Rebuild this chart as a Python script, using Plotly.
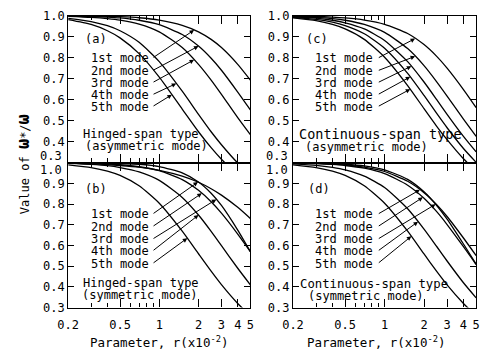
import numpy as np
import plotly.graph_objects as go

# ---------------- data ----------------
r = [0.2, 0.3, 0.4, 0.5, 0.7, 1.0, 1.5, 2.0, 2.5, 3.0, 4.0, 5.0]
modes = ["1st mode", "2nd mode", "3rd mode", "4th mode", "5th mode"]
x_tickvals = [0.2, 0.5, 1, 2, 3, 4, 5]
x_ticktext = ["0.2", "0.5", "1", "2", "3", "4", "5"]
x_minor = [0.3, 0.4, 0.6, 0.7, 0.8, 0.9]
y_tickvals = [0.3, 0.4, 0.5, 0.6, 0.7, 0.8, 0.9, 1.0]

# (a) Hinged-span type, asymmetric mode
a_1st = [0.999, 0.998, 0.997, 0.995, 0.990, 0.979, 0.954, 0.923, 0.887, 0.848, 0.768, 0.693]
a_2nd = [0.998, 0.996, 0.993, 0.989, 0.978, 0.957, 0.910, 0.855, 0.797, 0.740, 0.636, 0.551]
a_3rd = [0.997, 0.992, 0.986, 0.979, 0.960, 0.923, 0.848, 0.768, 0.693, 0.625, 0.514, 0.433]
a_4th = [0.987, 0.972, 0.952, 0.928, 0.873, 0.781, 0.640, 0.530, 0.447, 0.385, 0.298, 0.243]
a_5th = [0.981, 0.958, 0.928, 0.894, 0.819, 0.707, 0.555, 0.447, 0.371, 0.316, 0.243, 0.196]

# (b) Hinged-span type, symmetric mode
b_1st = [0.997, 0.994, 0.990, 0.986, 0.978, 0.963, 0.935, 0.905, 0.874, 0.843, 0.784, 0.730]
b_2nd = [0.998, 0.996, 0.993, 0.990, 0.980, 0.961, 0.918, 0.866, 0.811, 0.756, 0.655, 0.570]
b_3rd = [1.000, 0.999, 0.998, 0.996, 0.992, 0.981, 0.950, 0.906, 0.852, 0.793, 0.674, 0.570]
b_4th = [0.996, 0.991, 0.985, 0.976, 0.955, 0.914, 0.832, 0.747, 0.668, 0.599, 0.490, 0.410]
b_5th = [0.989, 0.976, 0.959, 0.938, 0.888, 0.804, 0.669, 0.560, 0.476, 0.411, 0.320, 0.261]

# (c) Continuous-span type, asymmetric mode
c_1st = [0.998, 0.996, 0.993, 0.989, 0.979, 0.959, 0.915, 0.862, 0.806, 0.750, 0.648, 0.562]
c_2nd = [0.996, 0.992, 0.986, 0.978, 0.958, 0.920, 0.843, 0.762, 0.685, 0.617, 0.507, 0.425]
c_3rd = [0.994, 0.988, 0.978, 0.966, 0.937, 0.882, 0.781, 0.684, 0.600, 0.530, 0.425, 0.351]
c_4th = [0.992, 0.982, 0.969, 0.953, 0.914, 0.845, 0.725, 0.620, 0.534, 0.466, 0.367, 0.301]
c_5th = [0.989, 0.976, 0.958, 0.937, 0.887, 0.802, 0.667, 0.557, 0.473, 0.409, 0.318, 0.259]

# (d) Continuous-span type, symmetric mode
d_1st = [0.998, 0.996, 0.993, 0.989, 0.978, 0.957, 0.910, 0.855, 0.797, 0.740, 0.636, 0.551]
d_2nd = [0.998, 0.995, 0.991, 0.986, 0.973, 0.947, 0.891, 0.828, 0.763, 0.701, 0.594, 0.508]
d_3rd = [0.999, 0.998, 0.995, 0.992, 0.984, 0.965, 0.919, 0.859, 0.793, 0.727, 0.607, 0.510]
d_4th = [0.994, 0.987, 0.977, 0.965, 0.935, 0.880, 0.777, 0.679, 0.595, 0.525, 0.420, 0.347]
d_5th = [0.989, 0.976, 0.959, 0.938, 0.888, 0.804, 0.669, 0.559, 0.475, 0.410, 0.320, 0.261]

# r-positions where each leader arrow meets its curve
a_tips = [1.85, 2.0, 1.85, 1.35, 1.25]
b_tips = [1.98, 2.12, 2.74, 2.0, 1.64]
c_tips = [1.71, 1.71, 1.6, 1.57, 1.57]
d_tips = [1.86, 1.96, 2.45, 1.8, 1.6]

# ---------------- layout helpers ----------------
W, H = 485, 354
FONT = "DejaVu Sans Mono"


def px(x):
    return x / W


def py(y):
    return 1 - y / H


LEFT = (59, 247)
RIGHT = (291, 480)
TOP = (9, 162)
BOT = (162, 313)


def yval(pix, band):
    return 1.0 - (pix - band[0]) / (band[1] - band[0]) * 0.7


panels = [
    dict(n=1, data=[a_1st, a_2nd, a_3rd, a_4th, a_5th], tips=a_tips, xb=LEFT, yb=TOP,
         letter="(a)", t1="Hinged-span type", t2="(asymmetric mode)", t1size=12,
         t1x=73, t2x=75, t1y=132, t2y=145, lx=75, ly=33),
    dict(n=2, data=[c_1st, c_2nd, c_3rd, c_4th, c_5th], tips=c_tips, xb=RIGHT, yb=TOP,
         letter="(c)", t1="Continuous-span type", t2="(asymmetric mode)", t1size=13.5,
         t1x=296, t2x=302, t1y=132, t2y=146, lx=303, ly=33),
    dict(n=3, data=[b_1st, b_2nd, b_3rd, b_4th, b_5th], tips=b_tips, xb=LEFT, yb=BOT,
         letter="(b)", t1="Hinged-span type", t2="(symmetric mode)", t1size=12,
         t1x=73, t2x=72, t1y=287, t2y=300, lx=75, ly=190),
    dict(n=4, data=[d_1st, d_2nd, d_3rd, d_4th, d_5th], tips=d_tips, xb=RIGHT, yb=BOT,
         letter="(d)", t1="Continuous-span type", t2="(symmetric mode)", t1size=12.3,
         t1x=297, t2x=305, t1y=288, t2y=301, lx=305, ly=190),
]

label_y_top = [53.5, 66.5, 79, 91.5, 104]
label_y_bot = [216, 229, 242, 254.5, 267.5]

fig = go.Figure()
annotations = []
logr = np.log10(r)

for p in panels:
    n = p["n"]
    xa = "x" if n == 1 else f"x{n}"
    ya = "y" if n == 1 else f"y{n}"
    for name, series in zip(modes, p["data"]):
        fig.add_trace(go.Scatter(x=r, y=series, mode="lines", name=name,
                                 line=dict(color="black", width=1.3, shape="spline", smoothing=0.6),
                                 xaxis=xa, yaxis=ya, showlegend=False, hoverinfo="skip"))
    is_top = p["yb"] == TOP
    is_left = p["xb"] == LEFT
    ly = label_y_top if is_top else label_y_bot
    text_right = 143 if is_left else 375
    for i, (name, series) in enumerate(zip(modes, p["data"])):
        tip = p["tips"][i]
        tip_y = float(np.interp(np.log10(tip), logr, series))
        annotations.append(dict(text=name, xref="paper", yref="paper",
                                x=px(text_right), y=py(ly[i]), xanchor="right", yanchor="middle",
                                showarrow=False, borderpad=0,
                                font=dict(family=FONT, size=12, color="black")))
        annotations.append(dict(text="", xref=xa, yref=ya, x=float(np.log10(tip)), y=tip_y,
                                axref=xa, ayref=ya, ax=float(np.log10(0.88)), ay=yval(ly[i], p["yb"]),
                                showarrow=True, arrowhead=2, arrowsize=0.9, arrowwidth=1,
                                arrowcolor="black", standoff=0))
    annotations.append(dict(text=p["letter"], xref="paper", yref="paper", x=px(p["lx"]), y=py(p["ly"]),
                            xanchor="left", yanchor="middle", showarrow=False, borderpad=0,
                            font=dict(family=FONT, size=12, color="black")))
    annotations.append(dict(text=p["t1"], xref="paper", yref="paper", x=px(p["t1x"]), y=py(p["t1y"]),
                            xanchor="left", yanchor="middle", showarrow=False, borderpad=0,
                            font=dict(family=FONT, size=p["t1size"], color="black")))
    annotations.append(dict(text=p["t2"], xref="paper", yref="paper", x=px(p["t2x"]), y=py(p["t2y"]),
                            xanchor="left", yanchor="middle", showarrow=False, borderpad=0,
                            font=dict(family=FONT, size=12, color="black")))

    xdom = [px(p["xb"][0]), px(p["xb"][1])]
    ydom = [py(p["yb"][1]), py(p["yb"][0])]
    xkey = "xaxis" if n == 1 else f"xaxis{n}"
    ykey = "yaxis" if n == 1 else f"yaxis{n}"
    ytext = [f"{v:.1f}" for v in y_tickvals]
    if is_top:
        ytext[0] = ""
    else:
        ytext[-1] = ""
    fig.update_layout(**{
        xkey: dict(type="log", range=[np.log10(0.2), np.log10(5)], domain=xdom, anchor=ya,
                   showline=True, linecolor="black", linewidth=1.3, mirror="allticks",
                   ticks="inside", ticklen=8, tickwidth=1, tickcolor="black",
                   tickvals=x_tickvals, ticktext=x_ticktext, showticklabels=not is_top,
                   ticklabelstandoff=6,
                   tickfont=dict(family=FONT, size=12, color="black"),
                   minor=dict(tickvals=x_minor, ticks="inside", ticklen=4, tickcolor="black",
                              showgrid=False),
                   showgrid=False, zeroline=False, fixedrange=True),
        ykey: dict(range=[0.3, 1.0], domain=ydom, anchor=xa,
                   showline=True, linecolor="black", linewidth=1.3, mirror="allticks",
                   ticks="inside", ticklen=6, tickwidth=1, tickcolor="black",
                   tickvals=y_tickvals, ticktext=ytext,
                   tickfont=dict(family=FONT, size=12, color="black"),
                   showgrid=False, zeroline=False, fixedrange=True),
    })
    lab_x = 54 if is_left else 287
    if is_top:
        annotations.append(dict(text="0.3", xref="paper", yref="paper", x=px(lab_x), y=py(155),
                                xanchor="right", yanchor="middle", showarrow=False, borderpad=0,
                                font=dict(family=FONT, size=12, color="black")))
    else:
        annotations.append(dict(text="1.0", xref="paper", yref="paper", x=px(lab_x), y=py(169.5),
                                xanchor="right", yanchor="middle", showarrow=False, borderpad=0,
                                font=dict(family=FONT, size=12, color="black")))

for cx in (153, 377):
    annotations.append(dict(text="Parameter, r(x10<sup>-2</sup>)", xref="paper", yref="paper",
                            x=px(cx), y=py(349), xanchor="center", yanchor="middle", showarrow=False,
                            font=dict(family=FONT, size=12.5, color="black")))
annotations.append(dict(text="Value of <b><span style='font-size:17px'>ω</span></b>*/<b><span style='font-size:17px'>ω</span></b>",
                        xref="paper", yref="paper", x=px(12), y=py(164), textangle=-90,
                        xanchor="center", yanchor="middle", showarrow=False,
                        font=dict(family=FONT, size=12, color="black")))

fig.update_layout(width=W, height=H, margin=dict(l=0, r=0, t=0, b=0),
                  paper_bgcolor="white", plot_bgcolor="white", showlegend=False,
                  annotations=annotations)

fig.write_html("out.html")
